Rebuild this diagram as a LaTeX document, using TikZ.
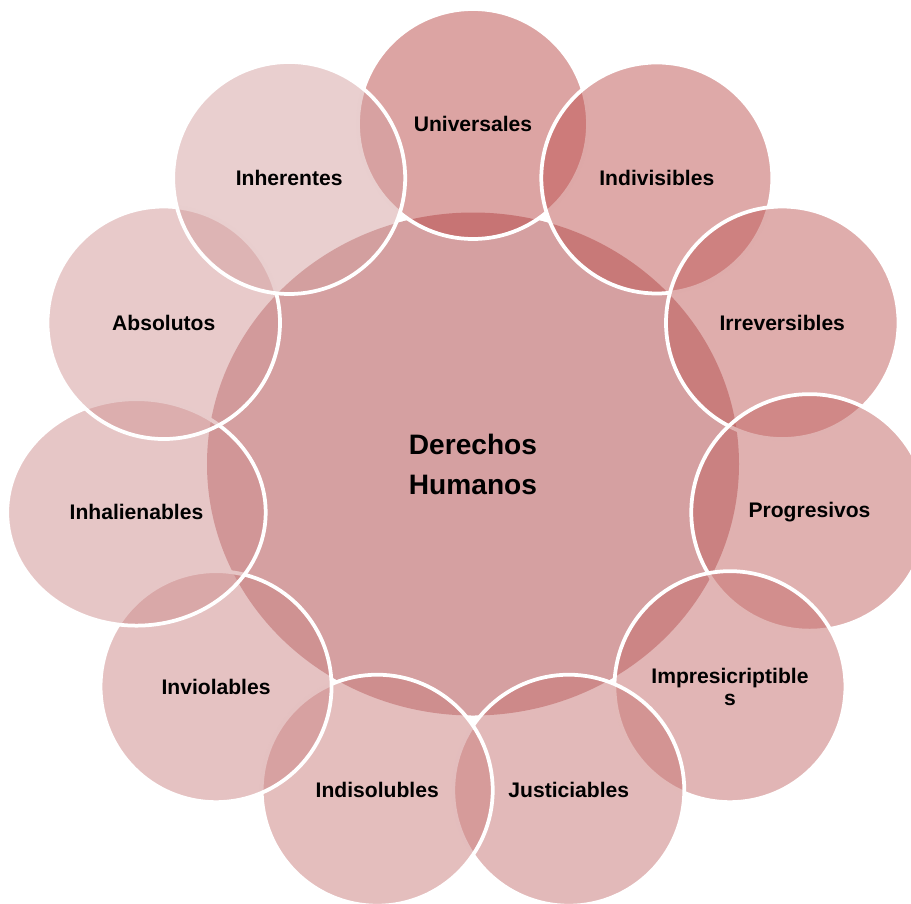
\documentclass[tikz,border=0pt]{standalone}
\usepackage{fontspec}
\setmainfont{Liberation Sans}
\usetikzlibrary{shapes.geometric}
\definecolor{rojoA}{RGB}{186,74,72}
\definecolor{rojoB}{RGB}{211,159,159}
\definecolor{centro}{RGB}{213,160,161}

\begin{document}
\begin{tikzpicture}[
        derecho/.style={ellipse, draw=white, line width=0.075cm, inner sep=0pt,
            fill opacity=0.5, text opacity=1, align=center, font=\fontsize{12}{12.5}\selectfont\bfseries},
        nucleo/.style={ellipse, fill=centro, minimum width=10.64cm, minimum height=10.06cm, inner sep=0pt,
            align=center, font=\fontsize{16}{22.8}\selectfont\bfseries}
    ]

            \clip (-9.46,-8.78) rectangle (8.76,9.28);

            \node (dh) [nucleo] at (0,0) {Derechos\\Humanos};

            \foreach \nombre/\ancho/\alto [count=\i from 0] in {Universales/4.6/4.6, Indivisibles/4.62/4.62,
                Irreversibles/4.65/4.65, Progresivos/4.73/4.73, Impresicriptible\\s/4.62/4.62,
                Justiciables/4.62/4.62, Indisolubles/4.62/4.62, Inviolables/4.62/4.62,
                Inhalienables/5.17/4.53, Absolutos/4.65/4.65, Inherentes/4.64/4.64} {
                \pgfmathtruncatemacro{\mezcla}{100-10*\i}
                \node (d\i) [derecho, minimum width=\ancho cm, minimum height=\alto cm, fill=rojoA!\mezcla!rojoB]
                    at ({90-\i*360/11}:6.8) {\nombre};
            }

        \end{tikzpicture}
\end{document}
